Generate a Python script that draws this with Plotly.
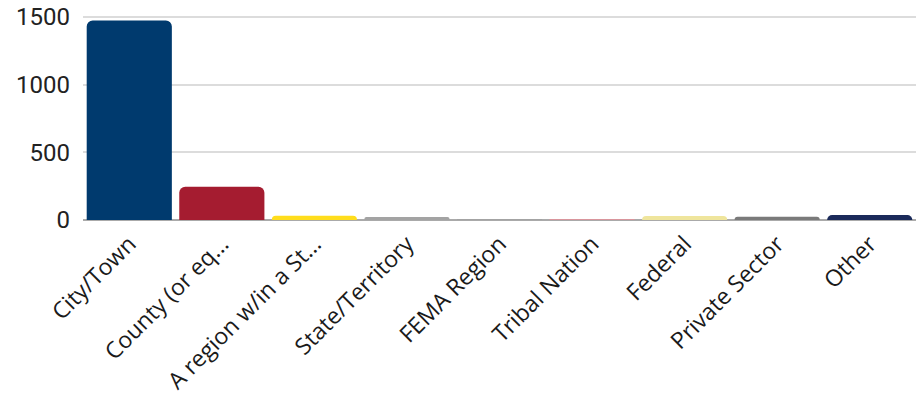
import plotly.graph_objects as go

categories = ["City/Town", "County (or eq...", "A region w/in a St...", "State/Territory",
              "FEMA Region", "Tribal Nation", "Federal", "Private Sector", "Other"]
values = [1474, 246, 32, 22, 1, 2, 30, 24, 37]
colors = ["#003a6e", "#a51c30", "#ffdd1c", "#a3a3a3", "#a3a3a3",
          "#d9959c", "#efe59c", "#7a7a7a", "#1b2a5a"]
y_ticks = [0, 500, 1000, 1500]

fig = go.Figure(go.Bar(
    x=categories, y=values,
    marker=dict(color=colors, line=dict(width=0), cornerradius=6),
    hoverinfo="skip",
))

fig.update_layout(
    width=916, height=394,
    margin=dict(l=83, r=0, t=0, b=174),
    paper_bgcolor="white", plot_bgcolor="white",
    bargap=0.08,
    showlegend=False,
)
fig.update_xaxes(
    tickangle=-45,
    tickfont=dict(family="Open Sans", size=23, color="#1a1a1a"),
    showgrid=False, showline=False, ticks="", ticklabelstandoff=5,
    automargin=False,
)
fig.update_yaxes(
    range=[0, 1625],
    tickvals=y_ticks,
    tickfont=dict(family="Roboto", size=24, color="#222"),
    gridcolor="#dcdcdc", gridwidth=2,
    zeroline=True, zerolinecolor="#aaaaaa", zerolinewidth=2,
    ticks="", ticklabelstandoff=12, automargin=False,
)

fig.write_html("out.html")
